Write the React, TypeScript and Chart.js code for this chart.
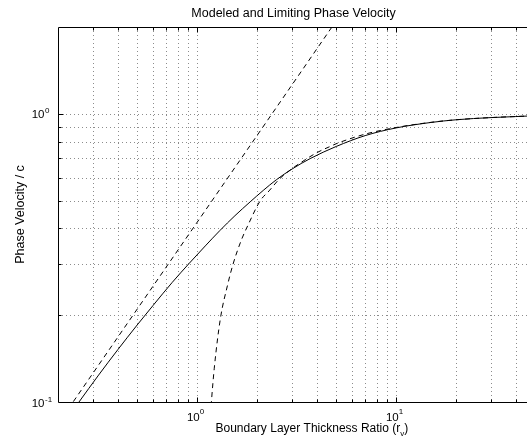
import { useEffect, useRef } from "react";
import { Chart, registerables } from "chart.js";

Chart.register(...registerables);

// Modeled phase velocity (solid curve)
const ratio = [0.2, 0.255, 0.32, 0.4, 0.5, 0.6, 0.75, 0.91, 1.1, 1.3, 1.55, 1.85, 2.15, 2.5, 3.0, 3.7, 5, 7, 10, 15, 20, 30, 40, 46];
const modeled = [0.079, 0.1, 0.124, 0.152, 0.185, 0.216, 0.26, 0.302, 0.348, 0.393, 0.443, 0.495, 0.542, 0.59, 0.643, 0.699, 0.77, 0.84, 0.893, 0.933, 0.953, 0.97, 0.978, 0.982];

// Thin boundary layer limit (straight dashed line)
const lowLimitRatio = [0.2, 5];
const lowLimit = [0.084, 2.1];

// Thick boundary layer limit (curved dashed line)
const highLimitRatio = [1.15, 1.18, 1.22, 1.31, 1.42, 1.51, 1.67, 1.8, 2.08, 2.3, 2.6, 3.0, 3.3, 4.0, 4.7, 5.0, 7.0, 10, 15, 20, 30, 46];
const highLimit = [0.078, 0.1, 0.131, 0.195, 0.253, 0.298, 0.365, 0.41, 0.5, 0.54, 0.595, 0.645, 0.675, 0.733, 0.772, 0.787, 0.85, 0.896, 0.934, 0.953, 0.97, 0.982];

// Axis ranges and ticks
const xRange = [0.2, 45.5];
const yRange = [0.1, 2];
const xMajor = [1, 10];
const xMajorLabels = [["10", "0"], ["10", "1"]];
const xMinor = [0.2, 0.3, 0.4, 0.5, 0.6, 0.7, 0.8, 0.9, 2, 3, 4, 5, 6, 7, 8, 9, 20, 30, 40];
const yMajor = [0.1, 1];
const yMajorLabels = [["10", "-1"], ["10", "0"]];
const yMinor = [0.2, 0.3, 0.4, 0.5, 0.6, 0.7, 0.8, 0.9, 2];

const titleText = "Modeled and Limiting Phase Velocity";
const xLabelText = "Boundary Layer Thickness Ratio (r";
const xLabelSub = "v";
const yLabelText = "Phase Velocity / c";

const FONT = '"Liberation Sans", Arial, Helvetica, sans-serif';

const pairs = (xs: number[], ys: number[]) => xs.map((x, i) => ({ x, y: ys[i] }));

const frame = {
  id: "frame",
  beforeDatasetsDraw(chart: any) {
    const { ctx, chartArea: a, scales } = chart;
    const sx = scales.x;
    const sy = scales.y;
    ctx.save();
    ctx.strokeStyle = "#8c8c8c";
    ctx.lineWidth = 1;
    ctx.setLineDash([1, 3]);
    for (const v of [...xMinor, ...xMajor]) {
      const p = Math.round(sx.getPixelForValue(v)) + 0.5;
      if (p <= a.left + 1 || p >= a.right) continue;
      ctx.beginPath();
      ctx.moveTo(p, a.top);
      ctx.lineTo(p, a.bottom);
      ctx.stroke();
    }
    for (const v of [...yMinor, ...yMajor]) {
      const p = Math.round(sy.getPixelForValue(v)) + 0.5;
      if (p <= a.top + 1 || p >= a.bottom - 1) continue;
      ctx.beginPath();
      ctx.moveTo(a.left, p);
      ctx.lineTo(a.right, p);
      ctx.stroke();
    }
    ctx.restore();
  },
  afterDatasetsDraw(chart: any) {
    const { ctx, chartArea: a, scales } = chart;
    const sx = scales.x;
    const sy = scales.y;
    const L = Math.round(a.left) + 0.5;
    const T = Math.round(a.top) + 0.5;
    const B = Math.round(a.bottom) + 0.5;
    ctx.save();
    ctx.setLineDash([]);
    ctx.strokeStyle = "#000";
    ctx.lineWidth = 1;
    // axes box (left, top, bottom)
    ctx.beginPath();
    ctx.moveTo(a.right, T);
    ctx.lineTo(L, T);
    ctx.lineTo(L, B);
    ctx.lineTo(a.right, B);
    ctx.stroke();
    // tick marks
    const tick = (vals: number[], len: number) => {
      for (const v of vals) {
        const p = Math.round(sx.getPixelForValue(v)) + 0.5;
        if (p <= a.left + 1 || p >= a.right) continue;
        ctx.beginPath();
        ctx.moveTo(p, B);
        ctx.lineTo(p, B - len);
        ctx.moveTo(p, T);
        ctx.lineTo(p, T + len);
        ctx.stroke();
      }
    };
    tick(xMinor, 3);
    tick(xMajor, 5);
    const ytick = (vals: number[], len: number) => {
      for (const v of vals) {
        const p = Math.round(sy.getPixelForValue(v)) + 0.5;
        if (p <= a.top + 1 || p >= a.bottom - 1) continue;
        ctx.beginPath();
        ctx.moveTo(L, p);
        ctx.lineTo(L + len, p);
        ctx.stroke();
      }
    };
    ytick(yMinor, 3);
    ytick(yMajor, 5);

    ctx.fillStyle = "#000";
    ctx.textBaseline = "alphabetic";
    const baseFont = `11.5px ${FONT}`;
    const expFont = `8px ${FONT}`;
    // x tick labels with exponents
    xMajor.forEach((v, i) => {
      const [b, e] = xMajorLabels[i];
      const p = sx.getPixelForValue(v);
      ctx.font = baseFont;
      const wb = ctx.measureText(b).width;
      ctx.font = expFont;
      const we = ctx.measureText(e).width;
      const x0 = p - 1.5 - (wb + we) / 2;
      ctx.font = baseFont;
      ctx.textAlign = "left";
      ctx.fillText(b, x0, 421);
      ctx.font = expFont;
      ctx.fillText(e, x0 + wb, 414);
    });
    // y tick labels with exponents
    yMajor.forEach((v, i) => {
      const [b, e] = yMajorLabels[i];
      const p = sy.getPixelForValue(v);
      ctx.font = baseFont;
      const wb = ctx.measureText(b).width;
      ctx.textAlign = "left";
      const x0 = 44.5 - wb;
      ctx.fillText(b, x0, p + 4.5);
      ctx.font = expFont;
      ctx.fillText(e, 44.5 + 0.5, p - 0.5);
    });

    // title
    ctx.font = `12.5px ${FONT}`;
    ctx.textAlign = "center";
    ctx.fillText(titleText, 293.5, 17);

    // x label with subscript
    ctx.font = `12px ${FONT}`;
    ctx.textAlign = "left";
    const xl0 = 215.5;
    ctx.fillText(xLabelText, xl0, 432);
    const w1 = ctx.measureText(xLabelText).width;
    ctx.font = `8px ${FONT}`;
    ctx.fillText(xLabelSub, xl0 + w1, 436);
    const w2 = ctx.measureText(xLabelSub).width;
    ctx.font = `12px ${FONT}`;
    ctx.fillText(")", xl0 + w1 + w2, 432);

    // y label
    ctx.save();
    ctx.translate(24, (a.top + a.bottom) / 2);
    ctx.rotate(-Math.PI / 2);
    ctx.font = `12.5px ${FONT}`;
    ctx.textAlign = "center";
    ctx.fillText(yLabelText, 0, 0);
    ctx.restore();

    ctx.restore();
  },
};

export default function App() {
  const ref = useRef<HTMLCanvasElement | null>(null);

  useEffect(() => {
    if (!ref.current) return;
    const chart = new Chart(ref.current, {
      type: "line",
      data: {
        datasets: [
          {
            label: "Modeled",
            data: pairs(ratio, modeled),
            borderColor: "#000",
            borderWidth: 1,
            pointRadius: 0,
            cubicInterpolationMode: "monotone",
            clip: 0,
          },
          {
            label: "Thin limit",
            data: pairs(lowLimitRatio, lowLimit),
            borderColor: "#000",
            borderWidth: 1,
            borderDash: [5, 4],
            pointRadius: 0,
            clip: 0,
          },
          {
            label: "Thick limit",
            data: pairs(highLimitRatio, highLimit),
            borderColor: "#000",
            borderWidth: 1,
            borderDash: [5, 4],
            pointRadius: 0,
            cubicInterpolationMode: "monotone",
            clip: 0,
          },
        ],
      },
      options: {
        animation: false,
        responsive: false,
        devicePixelRatio: 1,
        layout: { padding: { left: 58, top: 27, right: 0, bottom: 35 } },
        plugins: { legend: { display: false }, tooltip: { enabled: false }, title: { display: false } },
        scales: {
          x: { type: "logarithmic", min: xRange[0], max: xRange[1], display: false },
          y: { type: "logarithmic", min: yRange[0], max: yRange[1], display: false },
        },
      },
      plugins: [frame],
    } as any);
    return () => chart.destroy();
  }, []);

  return (
    <div style={{ position: "fixed", left: 0, top: 0, width: 527, height: 437, background: "#fff" }}>
      <canvas ref={ref} width={527} height={437} style={{ display: "block" }} />
    </div>
  );
}
